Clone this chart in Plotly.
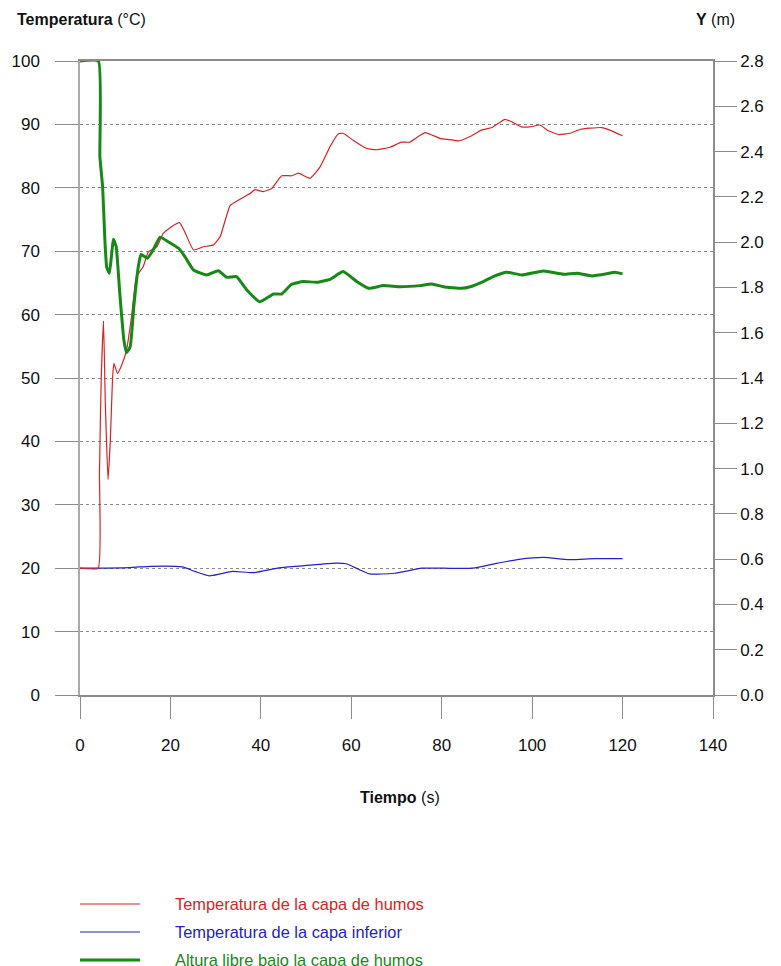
import plotly.graph_objects as go

# ---- data ----
t_humos = [0, 4.0, 4.3, 4.7, 5.2, 5.6, 6.2, 6.7, 7.2, 7.5, 8.3, 9.2, 10.3, 11.4, 12.5, 14.0, 15.1, 17.0,
           18.4, 20.3, 22.0, 23.2, 25.1, 27.3, 29.5, 31.0, 33.2, 35.4, 37.6, 38.7, 40.5, 42.4, 44.6, 46.8,
           48.3, 50.9, 53.1, 55.3, 57.1, 58.2, 60.4, 63.4, 65.6, 68.6, 71.1, 72.9, 76.3, 79.6, 81.8, 83.7,
           86.3, 88.8, 91.1, 94.0, 95.8, 97.7, 99.5, 101.7, 103.6, 105.8, 108.4, 110.6, 112.8, 115.4, 117.2, 120.0]
T_humos = [20, 20, 35, 50, 59, 46, 34, 40, 50, 52.3, 50.7, 52, 54.4, 59.7, 66, 67.6, 69.9, 70.7,
           72.8, 73.9, 74.5, 73, 70.2, 70.7, 71, 72.3, 77.2, 78.2, 79.1, 79.7, 79.4, 79.9, 81.9, 81.9,
           82.3, 81.5, 83.3, 86.5, 88.5, 88.6, 87.5, 86.2, 86, 86.4, 87.2, 87.2, 88.7, 87.8, 87.6, 87.4,
           88.1, 89.1, 89.5, 90.8, 90.3, 89.6, 89.6, 89.9, 89, 88.4, 88.6, 89.2, 89.4, 89.5, 89.1, 88.2]

t_inferior = [0, 10.9, 15.6, 22.6, 25.4, 28.6, 31, 33.7, 38.4, 44, 49.6, 56.6, 58.9, 61.7, 64, 69.6,
              71.9, 75.6, 80.3, 86.8, 92.4, 97.1, 102.6, 108.2, 113.8, 120]
T_inferior = [20, 20.1, 20.3, 20.2, 19.5, 18.8, 19.1, 19.5, 19.3, 20.05, 20.4, 20.8, 20.7, 19.8, 19.1, 19.2,
              19.5, 20, 20, 20, 20.8, 21.4, 21.7, 21.35, 21.5, 21.5]

t_altura = [0, 4.05, 4.4, 5.0, 5.5, 5.9, 6.5, 7.4, 8.0, 8.8, 9.7, 10.3, 11.1, 11.9, 12.9, 13.5, 14.9, 16.2,
            17.7, 19.5, 21.8, 23.2, 25.1, 28.0, 30.6, 32.4, 34.6, 36.9, 39.8, 42.8, 44.6, 46.8, 49.4, 52.4,
            55.3, 58.2, 61.2, 63.8, 67.1, 70.8, 75.2, 77.8, 80.4, 84.4, 86.3, 89.2, 91.4, 94.4, 97.7, 102.5,
            106.9, 109.9, 113.2, 116.5, 118.3, 120]
Y_altura = [2.8, 2.8, 2.378, 2.245, 2.01, 1.89, 1.863, 2.013, 1.98, 1.774, 1.568, 1.512, 1.538, 1.715, 1.892,
            1.946, 1.929, 1.966, 2.022, 2.002, 1.973, 1.936, 1.877, 1.855, 1.874, 1.845, 1.848, 1.789, 1.737,
            1.771, 1.771, 1.814, 1.826, 1.823, 1.836, 1.87, 1.826, 1.796, 1.808, 1.803, 1.808, 1.815, 1.803,
            1.796, 1.803, 1.826, 1.848, 1.867, 1.855, 1.873, 1.858, 1.863, 1.851, 1.86, 1.867, 1.86]

legend_names = ["Temperatura de la capa de humos", "Temperatura de la capa inferior",
                "Altura libre bajo la capa de humos"]
x_ticks = [0, 20, 40, 60, 80, 100, 120, 140]
left_ticks = [0, 10, 20, 30, 40, 50, 60, 70, 80, 90, 100]
right_ticks = [0.0, 0.2, 0.4, 0.6, 0.8, 1.0, 1.2, 1.4, 1.6, 1.8, 2.0, 2.2, 2.4, 2.6, 2.8]

RED = "#d92323"
BLUE = "#2222c8"
GREEN = "#168a16"
AXC = "#8c8c8c"
FONT = "Liberation Sans, Arial, sans-serif"

fig = go.Figure()
fig.add_trace(go.Scatter(x=t_inferior, y=T_inferior, mode="lines",
                         line=dict(color=BLUE, width=1.2, shape="spline", smoothing=0.6),
                         name=legend_names[1], showlegend=False))
fig.add_trace(go.Scatter(x=t_humos, y=T_humos, mode="lines",
                         line=dict(color=RED, width=1.2, shape="spline", smoothing=0.4),
                         name=legend_names[0], showlegend=False))
fig.add_trace(go.Scatter(x=t_altura, y=Y_altura, mode="lines",
                         line=dict(color=GREEN, width=3, shape="spline", smoothing=0.4),
                         name=legend_names[2], yaxis="y2", showlegend=False))

fig.update_layout(
    width=773, height=958, autosize=False,
    margin=dict(l=72, r=68, t=53, b=271),
    paper_bgcolor="white", plot_bgcolor="white",
    font=dict(family=FONT, size=16, color="#111111"),
    xaxis=dict(range=[0, 140], tickvals=x_ticks, ticks="outside", ticklen=22, tickcolor=AXC,
               showline=True, linecolor=AXC, linewidth=1.5, mirror=True, showgrid=False, zeroline=False,
               tickfont=dict(size=17), ticklabelstandoff=12, automargin=False),
    yaxis=dict(range=[0, 100], tickvals=left_ticks, ticks="outside", ticklen=23, tickcolor=AXC,
               showline=True, linecolor="#aaaaaa", linewidth=1.5, showgrid=True, gridcolor="#888888",
               griddash="dot", gridwidth=1, zeroline=False, tickfont=dict(size=17), ticklabelstandoff=12,
               automargin=False),
    yaxis2=dict(range=[0, 2.8], tickvals=right_ticks, tickformat=".1f", ticks="outside", ticklen=22,
                tickcolor=AXC, showline=True, linecolor=AXC, linewidth=1.5, overlaying="y", side="right",
                showgrid=False, zeroline=False, tickfont=dict(size=17), ticklabelstandoff=0,
                automargin=False),
)

def px2paper(px, py):
    return (px - 80) / 633.0, (695 - py) / 634.0

ann = []
x0, y0 = px2paper(15, 20)
ann.append(dict(text="<b>Temperatura</b> (°C)", x=x0, y=y0, xref="paper", yref="paper",
                xanchor="left", yanchor="middle", showarrow=False, font=dict(size=16)))
x0, y0 = px2paper(737, 20)
ann.append(dict(text="<b>Y</b> (m)", x=x0, y=y0, xref="paper", yref="paper",
                xanchor="right", yanchor="middle", showarrow=False, font=dict(size=16)))
x0, y0 = px2paper(400, 798)
ann.append(dict(text="<b>Tiempo</b> (s)", x=x0, y=y0, xref="paper", yref="paper",
                xanchor="center", yanchor="middle", showarrow=False, font=dict(size=16)))

shapes = []
leg_colors = [RED, BLUE, GREEN]
leg_widths = [1.2, 1.2, 3]
leg_y = [904, 932, 960]
for name, c, w, ly in zip(legend_names, leg_colors, leg_widths, leg_y):
    xa, ya = px2paper(80, ly)
    xb, _ = px2paper(140, ly)
    shapes.append(dict(type="line", xref="paper", yref="paper", x0=xa, x1=xb, y0=ya, y1=ya,
                       line=dict(color=c, width=w)))
    xt, _ = px2paper(173, ly)
    ann.append(dict(text=name, x=xt, y=ya, xref="paper", yref="paper", xanchor="left", yanchor="middle",
                    showarrow=False, font=dict(size=16.4, color=c)))

fig.update_layout(annotations=ann, shapes=shapes)
fig.write_html("out.html")
